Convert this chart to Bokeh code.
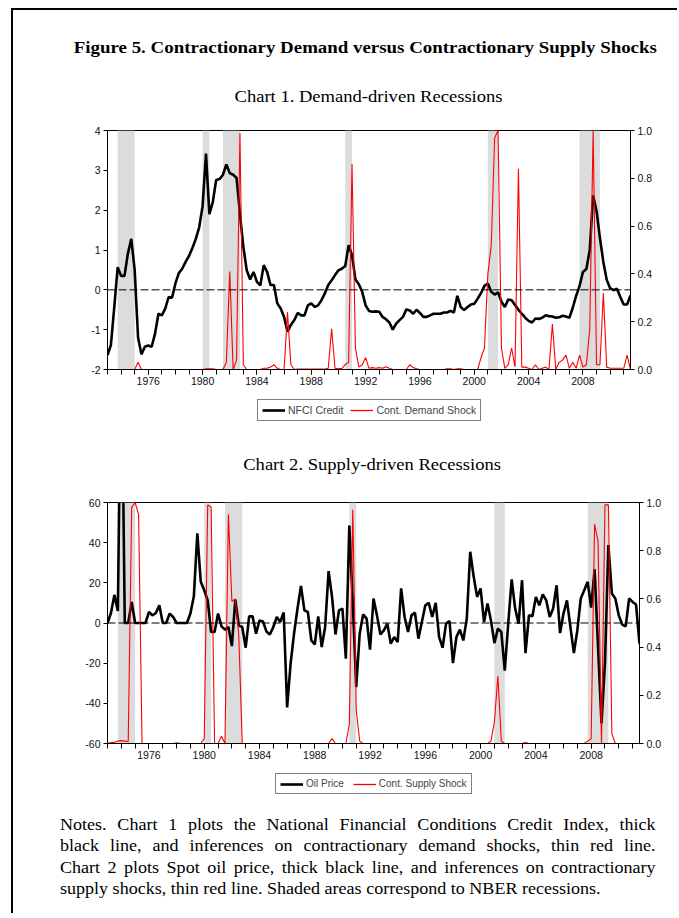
from bokeh.plotting import figure
from bokeh.models import (Range1d, LinearAxis, FixedTicker, Span, BoxAnnotation,
                          Legend, LegendItem, Div, NumeralTickFormatter, ColumnDataSource)
from bokeh.layouts import column
from bokeh.embed import file_html
from bokeh.resources import INLINE

# ---------------- data (quarterly, 1973Q1 - 2011Q3) ----------------
quarters = [1973.0 + 0.25 * i for i in range(155)]

nfci_credit = [
    -1.64, -1.39, -0.43, 0.57, 0.35, 0.35, 0.91, 1.28, 0.5, -1.2,
    -1.62, -1.43, -1.4, -1.43, -1.1, -0.6, -0.64, -0.47, -0.18, -0.2,
    0.16, 0.42, 0.53, 0.7, 0.85, 1.05, 1.28, 1.57, 2.1, 3.42,
    1.9, 2.2, 2.76, 2.78, 2.89, 3.15, 2.93, 2.89, 2.81, 1.91,
    1.08, 0.49, 0.26, 0.45, 0.2, 0.11, 0.62, 0.45, 0.12, 0.12,
    -0.34, -0.47, -0.68, -1.05, -0.88, -0.76, -0.58, -0.64, -0.64, -0.39,
    -0.34, -0.43, -0.39, -0.26, -0.09, 0.12, 0.24, 0.37, 0.49, 0.53,
    0.6, 1.12, 0.87, 0.26, 0.14, -0.05, -0.39, -0.53, -0.55, -0.54,
    -0.55, -0.68, -0.74, -0.82, -1.0, -0.85, -0.76, -0.68, -0.49, -0.52,
    -0.6, -0.5, -0.58, -0.68, -0.68, -0.64, -0.6, -0.6, -0.6, -0.57,
    -0.57, -0.53, -0.57, -0.15, -0.43, -0.51, -0.43, -0.37, -0.35, -0.22,
    -0.08, 0.1, 0.16, -0.05, -0.12, -0.06, -0.3, -0.43, -0.24, -0.26,
    -0.38, -0.5, -0.6, -0.7, -0.78, -0.82, -0.72, -0.73, -0.7, -0.64,
    -0.66, -0.67, -0.7, -0.69, -0.65, -0.67, -0.7, -0.45, -0.15, 0.1,
    0.45, 0.52, 1.0, 2.37, 1.98, 1.3, 0.7, 0.25, 0.04, -0.01,
    0.03, -0.18, -0.37, -0.37, -0.14,
]

demand_shock = [
    0, 0, 0, 0, 0, 0, 0, 0, 0, 0.03,
    0, 0, 0, 0, 0, 0, 0, 0, 0, 0,
    0, 0, 0, 0, 0, 0, 0, 0, 0, 0.003,
    0.003, 0.003, 0, 0, 0, 0.03, 0.41, 0, 0.04, 0.99,
    0.02, 0, 0, 0, 0, 0, 0.005, 0.005, 0.01, 0.02,
    0.005, 0, 0, 0.24, 0.02, 0, 0.002, 0.002, 0.002, 0.002,
    0.002, 0.002, 0.002, 0.002, 0.002, 0.005, 0.17, 0.004, 0.004, 0.004,
    0.02, 0.03, 0.86, 0.09, 0.01, 0.02, 0.05, 0.005, 0.008, 0.005,
    0.008, 0.005, 0.012, 0.005, 0, 0, 0, 0, 0, 0.02,
    0.008, 0.003, 0, 0, 0, 0, 0, 0, 0, 0,
    0.003, 0.003, 0, 0.003, 0.003, 0, 0, 0, 0, 0,
    0.05, 0.09, 0.4, 0.52, 0.97, 1.0, 0.09, 0.005, 0.02, 0.09,
    0.01, 0.84, 0.01, 0.01, 0.005, 0, 0.02, 0, 0.005, 0.01,
    0, 0.19, 0, 0.03, 0.04, 0.06, 0.005, 0.03, 0.005, 0.06,
    0.01, 0.02, 0.17, 1.0, 0.02, 0.02, 0.32, 0.01, 0.005, 0.005,
    0.005, 0.005, 0.005, 0.06, 0,
]

oil_price = [
    0, 5, 14, 6, 150, 0, 0, 10.5, 0, 0,
    0, 0, 5.5, 3.8, 5, 8.8, 0, 0, 4.7, 3,
    0, 0, 0, 0, 4.7, 13.3, 44.7, 20.5, 16.3, 11.3,
    -4.5, -4.5, 4.7, -1.7, -3.3, -2, -11.5, 11.7, -1.2, -2,
    -12.3, 3.3, 3.3, -5.3, 1.3, 0.8, -4.2, -5.7, -2, 3,
    0.5, 5.2, -42, -20.3, -5.3, 7.2, 18.5, 6.3, 5.5, -8.7,
    -10.7, 3.3, -12, -2, 25.8, 13, -5.7, 6.3, 7.2, -17.8,
    48.5, 10, -32, -5.3, 4.3, 2.2, -13.3, 12.2, 3.8, -5.7,
    -3.7, -0.3, -10.3, -7, -9.5, 17.2, 3, -4.5, 3.8, 5.2,
    -7.8, 0.5, 8.8, 10, 3, 10, -7, -12.3, -0.3, 1,
    -20, -7, -3.3, -8.7, 2.2, 35.5, 23, 13, 17.2, 0.5,
    9.7, 1.3, -10, -2.8, -4.5, -23.7, -0.3, 21.7, 7.2, -0.3,
    21.3, -15, 3.8, 3.3, 13, 8.8, 14.3, 11.3, 3, 7.2,
    18.8, -5, 4.7, 11.3, -2, -15, -3.7, 12.2, 16.3, 20.5,
    7.7, 26.7, -12, -50, -20, 38.8, 14.7, 12.2, 3.8, -0.8,
    -1.7, 12.2, 10.5, 9.2, -10.3,
]

supply_shock = [
    0, 0.004, 0.004, 0.01, 0.012, 0.01, 0.008, 0.98, 1.0, 0.95,
    0, 0, 0, 0, 0, 0, 0, 0, 0, 0,
    0.003, 0, 0, 0, 0, 0, 0, 0, 0.02, 0.99,
    0.98, 0, 0, 0.03, 0, 0.95, 0.59, 0.6, 0.45, 0,
    0, 0, 0, 0, 0, 0, 0, 0, 0, 0,
    0, 0, 0, 0, 0, 0, 0, 0, 0, 0,
    0, 0, 0, 0, 0, 0.02, 0, 0, 0, 0,
    0.08, 0.97, 0.14, 0.01, 0, 0, 0, 0, 0, 0,
    0, 0, 0, 0, 0, 0, 0, 0, 0, 0,
    0, 0, 0, 0, 0, 0, 0, 0, 0, 0,
    0, 0, 0, 0, 0, 0, 0, 0, 0, 0,
    0, 0.01, 0.09, 0.28, 0.01, 0, 0, 0, 0, 0,
    0, 0.004, 0, 0, 0, 0, 0, 0, 0, 0,
    0, 0, 0, 0, 0, 0, 0, 0, 0, 0.01,
    0.02, 0.91, 0.84, 0, 0.99, 0.99, 0.04, 0, 0, 0,
    0, 0, 0, 0, 0,
]

# NBER recessions (peak quarter -> trough quarter)
rec_start = [1973.75, 1980.0, 1981.5, 1990.5, 2001.0, 2007.75]
rec_end = [1975.0, 1980.5, 1982.75, 1991.0, 2001.75, 2009.25]

year_ticks = [1976, 1980, 1984, 1988, 1992, 1996, 2000, 2004, 2008]
year_minor = list(range(1973, 2012))
chart1_left_ticks = [-2, -1, 0, 1, 2, 3, 4]
chart2_left_ticks = [-60, -40, -20, 0, 20, 40, 60]
right_ticks = [0.0, 0.2, 0.4, 0.6, 0.8, 1.0]

main_title = "Figure 5. Contractionary Demand versus Contractionary Supply Shocks"
chart1_title = "Chart 1. Demand-driven Recessions"
chart2_title = "Chart 2. Supply-driven Recessions"
chart1_labels = ["NFCI Credit", "Cont. Demand Shock"]
chart2_labels = ["Oil Price", "Cont. Supply Shock"]
notes_lines = [
    "Notes. Chart 1 plots the National Financial Conditions Credit Index, thick",
    "black line, and inferences on contractionary demand shocks, thin red line.",
    "Chart 2 plots Spot oil price, thick black line, and inferences on contractionary",
    "supply shocks, thin red line. Shaded areas correspond to NBER recessions.",
]

SANS = "Liberation Sans"
SERIF = "'Liberation Serif', 'Times New Roman', serif"
W = 664
BLACK_W = 2.6
RED = "#ff0000"
RED_W = 1.1
TICK_FONT = "10.5px"


def make_chart(black, red, ylo, yhi, lticks, width, height, mbl, mbr, mbt, mbb):
    p = figure(width=width, height=height, x_range=Range1d(1973.0, 2011.5),
               y_range=Range1d(ylo, yhi), output_backend="svg",
               toolbar_location=None, title=None,
               min_border_left=mbl, min_border_right=mbr,
               min_border_top=mbt, min_border_bottom=mbb)
    p.extra_y_ranges = {"prob": Range1d(0, 1)}
    p.grid.visible = False
    p.outline_line_color = "black"
    p.outline_line_width = 1
    p.background_fill_color = "white"
    p.border_fill_color = "white"

    for s, e in zip(rec_start, rec_end):
        p.add_layout(BoxAnnotation(left=s, right=e, fill_color="#dcdcdc",
                                   fill_alpha=1.0, line_alpha=0, level="underlay"))

    src = ColumnDataSource(dict(x=quarters, b=black, r=red))
    p.add_layout(Span(location=0, dimension="width", line_color="black",
                      line_width=1, line_dash="8 3"))
    p.line("x", "b", source=src, line_color="black", line_width=BLACK_W)
    p.line("x", "r", source=src, y_range_name="prob",
           line_color=RED, line_width=RED_W)

    xa = p.xaxis[0]
    xa.ticker = FixedTicker(ticks=year_ticks, minor_ticks=year_minor)
    xa.major_tick_out = 5
    xa.major_tick_in = 0
    xa.minor_tick_out = 5
    xa.minor_tick_in = 0
    xa.major_label_standoff = 2

    ya = p.yaxis[0]
    ya.ticker = FixedTicker(ticks=lticks)
    ya.major_label_overrides = {t: str(t) for t in lticks}
    ya.major_tick_out = 4
    ya.major_tick_in = 0
    ya.major_label_standoff = 3

    ra = LinearAxis(y_range_name="prob", ticker=FixedTicker(ticks=right_ticks),
                    formatter=NumeralTickFormatter(format="0.0"))
    ra.major_tick_out = 4
    ra.major_tick_in = 0
    ra.major_label_standoff = 3
    p.add_layout(ra, "right")

    for ax in (xa, ya, ra):
        ax.axis_line_color = "black"
        ax.axis_line_width = 1
        ax.major_tick_line_color = "black"
        ax.major_label_text_font = SANS
        ax.major_label_text_font_size = TICK_FONT
        ax.major_label_text_color = "#111111"
    xa.minor_tick_line_color = "black"
    ya.minor_tick_line_color = None
    ra.minor_tick_line_color = None
    return p


def make_legend_fig(height, labels, loc, font, spacing):
    # frame edges of this strip are aligned by the column with the charts above
    lf = figure(width=W, height=height, x_range=Range1d(0, 1), y_range=Range1d(0, 1),
                x_axis_type=None, y_axis_type=None, output_backend="svg",
                toolbar_location=None, title=None,
                min_border_left=0, min_border_right=0,
                min_border_top=0, min_border_bottom=0)
    lf.outline_line_color = None
    lf.background_fill_color = "white"
    lf.border_fill_color = "white"
    # key renderers for the legend samples (kept outside the visible range)
    kb = lf.line(x=[5, 6], y=[5, 5], line_color="black", line_width=BLACK_W)
    kr = lf.line(x=[5, 6], y=[5, 5], line_color=RED, line_width=1.3)
    leg = Legend(items=[LegendItem(label=labels[0], renderers=[kb]),
                        LegendItem(label=labels[1], renderers=[kr])],
                 orientation="horizontal", location=loc,
                 margin=0, padding=4, spacing=spacing,
                 glyph_width=23, glyph_height=10, label_standoff=3,
                 label_height=10, border_line_color="black",
                 border_line_width=1, background_fill_alpha=1.0,
                 label_text_font=SANS, label_text_font_size=font)
    lf.add_layout(leg)
    return lf


def centered(text, left, width, top, size, bold=False, stretch=1.16):
    weight = "bold" if bold else "normal"
    return (f'<div style="position:absolute;left:{left}px;top:{top}px;width:{width}px;'
            f'text-align:center;white-space:nowrap;">'
            f'<span style="display:inline-block;font-weight:{weight};font-size:{size}px;'
            f'line-height:20px;transform:scaleX({stretch});">{text}</span></div>')


header1_html = (f'<div style="position:relative;width:{W}px;height:105px;'
                f'font-family:{SERIF};color:black;">'
                + centered(main_title, 40, 624, 28, 16.3, bold=True)
                + centered(chart1_title, 48, 616, 77, 16.0)
                + '</div>')
header1 = Div(text=header1_html, width=W, height=105, margin=0)

p1 = make_chart(nfci_credit, demand_shock, -2, 4, chart1_left_ticks,
                width=655, height=284, mbl=94, mbr=38, mbt=15, mbb=30)
leg1 = make_legend_fig(41, chart1_labels, (150, 19), "10.5px", 7)

header2_html = (f'<div style="position:relative;width:{W}px;height:50px;'
                f'font-family:{SERIF};color:black;">'
                + centered(chart2_title, 54, 610, 15, 16.0)
                + '</div>')
header2 = Div(text=header2_html, width=W, height=50, margin=0)

p2 = make_chart(oil_price, supply_shock, -60, 60, chart2_left_ticks,
                width=W, height=283, mbl=93, mbr=38, mbt=12, mbb=30)
leg2 = make_legend_fig(32, chart2_labels, (168, 11), "10px", 9)


def flex_line(s):
    spans = "".join(f"<span>{w}</span>" for w in s.split(" "))
    return (f'<div style="display:flex;justify-content:space-between;'
            f'white-space:nowrap;">{spans}</div>')


notes_inner = "".join(flex_line(s) for s in notes_lines[:-1])
notes_inner += f'<div style="white-space:nowrap;">{notes_lines[-1]}</div>'
notes_html = (f'<div style="position:relative;width:{W}px;height:108px;'
              f'font-family:{SERIF};color:black;">'
              f'<div style="position:absolute;left:47px;top:9px;width:518px;'
              f'transform:scaleX(1.15);transform-origin:0 0;font-size:15.7px;'
              f'line-height:21.3px;">{notes_inner}</div></div>')
notes = Div(text=notes_html, width=W, height=108, margin=0)

layout = column(header1, p1, leg1, header2, p2, leg2, notes, spacing=0,
                margin=(8, 0, 0, 11),
                styles={"border-top": "2px solid black",
                        "border-left": "2px solid black"})

with open("out.html", "w") as f:
    f.write(file_html(layout, INLINE))
